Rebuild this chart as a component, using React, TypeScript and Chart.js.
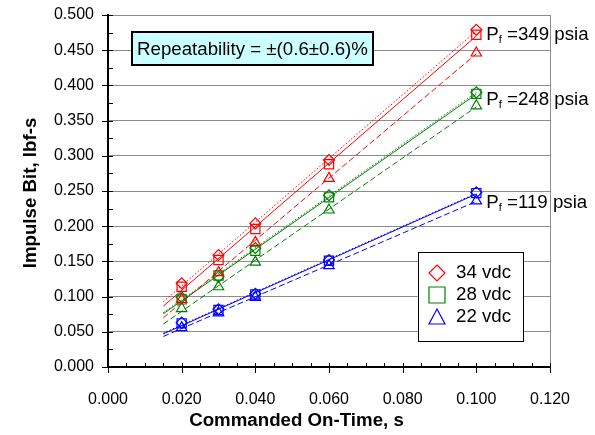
import React, { useEffect, useRef } from 'react';
import { Chart, registerables } from 'chart.js';

Chart.register(...registerables);

// ---- data ----
const onTimes = [0.02, 0.03, 0.04, 0.06, 0.1];

// Pf = 349 psia (red)
const p349v34 = [0.119, 0.159, 0.204, 0.294, 0.479];
const p349v28 = [0.114, 0.152, 0.196, 0.288, 0.472];
const p349v22 = [0.096, 0.134, 0.177, 0.268, 0.446];
// Pf = 248 psia (green)
const p248v34 = [0.099, 0.128, 0.169, 0.244, 0.390];
const p248v28 = [0.096, 0.130, 0.165, 0.241, 0.388];
const p248v22 = [0.083, 0.114, 0.149, 0.223, 0.371];
// Pf = 119 psia (blue)
const p119v34 = [0.063, 0.082, 0.104, 0.152, 0.248];
const p119v28 = [0.062, 0.081, 0.103, 0.151, 0.247];
const p119v22 = [0.056, 0.077, 0.099, 0.144, 0.236];

const pressures = ['349', '248', '119'];
const pressureLabelY = [0.472, 0.3795, 0.2328];
const voltages = ['34 vdc', '28 vdc', '22 vdc'];
const xTickValues = [0, 0.02, 0.04, 0.06, 0.08, 0.1, 0.12];
const yTickValues = [0, 0.05, 0.1, 0.15, 0.2, 0.25, 0.3, 0.35, 0.4, 0.45, 0.5];
const trendRange = [0.015, 0.1];
const repeatabilityText = 'Repeatability = \u00B1(0.6\u00B10.6)%';
const xTitle = 'Commanded On-Time, s';
const yTitle = 'Impulse Bit, lbf-s';

const RED = '#FF0000';
const GREEN = '#008000';
const BLUE = '#0000FF';
const GRID = '#8c8c8c';
const FONT = '"Liberation Sans", Arial, sans-serif';
const BIG = '18.7px ';

const groups = [
  { color: RED, series: [p349v34, p349v28, p349v22] },
  { color: GREEN, series: [p248v34, p248v28, p248v22] },
  { color: BLUE, series: [p119v34, p119v28, p119v22] },
];
const markerStyles = ['rectRot', 'rect', 'triangle'];
const markerRadius = [5.5, 6.5, 6];
const lineDashes = [[1.5, 2], [], [6, 3]];

function fit(xs: number[], ys: number[]) {
  const n = xs.length;
  const mx = xs.reduce((a, b) => a + b, 0) / n;
  const my = ys.reduce((a, b) => a + b, 0) / n;
  let sxx = 0, sxy = 0;
  for (let i = 0; i < n; i++) {
    sxx += (xs[i] - mx) ** 2;
    sxy += (xs[i] - mx) * (ys[i] - my);
  }
  const b = sxy / sxx;
  return (x: number) => my + b * (x - mx);
}

function buildDatasets() {
  const ds: any[] = [];
  groups.forEach((g) => {
    g.series.forEach((vals, k) => {
      const f = fit(onTimes, vals);
      ds.push({
        type: 'line',
        data: trendRange.map((x) => ({ x, y: f(x) })),
        borderColor: g.color,
        borderWidth: 1,
        borderDash: lineDashes[k],
        pointRadius: 0,
        showLine: true,
        fill: false,
        order: 2,
      });
      ds.push({
        type: 'scatter',
        data: onTimes.map((x, i) => ({ x, y: vals[i] })),
        borderColor: g.color,
        backgroundColor: 'rgba(0,0,0,0)',
        borderWidth: 1.2,
        pointStyle: markerStyles[k],
        pointRadius: markerRadius[k],
        showLine: false,
        order: 1,
      });
    });
  });
  return ds;
}

const decor = {
  id: 'decor',
  afterDraw(chart: any) {
    const { ctx, chartArea: ca, scales } = chart;
    const xs = scales.x;
    const ys = scales.y;
    ctx.save();
    // right border
    ctx.strokeStyle = GRID;
    ctx.lineWidth = 1;
    ctx.beginPath();
    const rx = Math.round(ca.right) + 0.5;
    ctx.moveTo(rx, ca.top);
    ctx.lineTo(rx, ca.bottom);
    ctx.stroke();

    // ticks
    ctx.strokeStyle = '#000';
    ctx.lineWidth = 1;
    ctx.beginPath();
    for (let i = 0; i <= 20; i++) {
      const py = Math.round(ys.getPixelForValue(i * 0.025)) + 0.5;
      const major = i % 2 === 0;
      ctx.moveTo(major ? ca.left - 6 : ca.left, py);
      ctx.lineTo(ca.left + 5, py);
    }
    for (let i = 0; i <= 24; i++) {
      const px = Math.round(xs.getPixelForValue(i * 0.005)) + 0.5;
      const major = i % 4 === 0;
      ctx.moveTo(px, ca.bottom - 4);
      ctx.lineTo(px, major ? ca.bottom + 6 : ca.bottom);
    }
    ctx.stroke();

    // axis titles
    ctx.fillStyle = '#000';
    ctx.font = 'bold ' + BIG + FONT;
    ctx.textAlign = 'center';
    ctx.textBaseline = 'middle';
    ctx.fillText(xTitle, chart.width / 2 - 1, 421);
    ctx.save();
    ctx.translate(31, 193);
    ctx.rotate(-Math.PI / 2);
    ctx.fillText(yTitle, 0, 0);
    ctx.restore();

    // repeatability box
    const bx = ca.left + 24;
    const by = ca.top + 17;
    const bw = 241;
    const bh = 33;
    ctx.fillStyle = '#CCFFFF';
    ctx.fillRect(bx, by, bw, bh);
    ctx.strokeStyle = '#000';
    ctx.lineWidth = 2;
    ctx.strokeRect(bx, by, bw, bh);
    ctx.fillStyle = '#000';
    ctx.font = BIG + FONT;
    ctx.textAlign = 'left';
    ctx.fillText(repeatabilityText, bx + 5, by + bh / 2 + 1);

    // pressure labels
    pressures.forEach((p, i) => {
      const lx = xs.getPixelForValue(0.1) + 10;
      const ly = ys.getPixelForValue(pressureLabelY[i]);
      ctx.font = BIG + FONT;
      ctx.textBaseline = 'middle';
      ctx.fillText('P', lx, ly);
      const pw = ctx.measureText('P').width;
      ctx.font = '11px ' + FONT;
      ctx.fillText('f', lx + pw, ly + 5);
      const fw = ctx.measureText('f').width;
      ctx.font = BIG + FONT;
      ctx.fillText(' =' + p + ' psia', lx + pw + fw, ly);
    });

    // legend
    const lw = 105;
    const lh = 89;
    const lx = ca.right - 27 - lw;
    const ly = ca.bottom - 26 - lh;
    ctx.fillStyle = '#fff';
    ctx.fillRect(lx, ly, lw, lh);
    ctx.strokeStyle = '#000';
    ctx.lineWidth = 1;
    ctx.strokeRect(Math.round(lx) + 0.5, Math.round(ly) + 0.5, lw, lh);
    const legendColors = [RED, GREEN, BLUE];
    voltages.forEach((v, i) => {
      const cy = ly + 21 + i * 22;
      const cx = lx + 19;
      ctx.strokeStyle = legendColors[i];
      ctx.lineWidth = 1.2;
      ctx.beginPath();
      if (i === 0) {
        ctx.moveTo(cx, cy - 8);
        ctx.lineTo(cx + 8, cy);
        ctx.lineTo(cx, cy + 8);
        ctx.lineTo(cx - 8, cy);
        ctx.closePath();
      } else if (i === 1) {
        ctx.rect(cx - 8, cy - 8, 16, 16);
      } else {
        ctx.moveTo(cx, cy - 8);
        ctx.lineTo(cx + 8, cy + 7);
        ctx.lineTo(cx - 8, cy + 7);
        ctx.closePath();
      }
      ctx.stroke();
      ctx.fillStyle = '#000';
      ctx.font = BIG + FONT;
      ctx.textAlign = 'left';
      ctx.textBaseline = 'middle';
      ctx.fillText(v, lx + 38, cy);
    });
    ctx.restore();
  },
};

export default function App() {
  const ref = useRef<HTMLCanvasElement | null>(null);
  useEffect(() => {
    if (!ref.current) return;
    const chart = new Chart(ref.current, {
      type: 'scatter',
      data: { datasets: buildDatasets() },
      options: {
        animation: false,
        responsive: false,
        layout: { padding: { top: 15, right: 45, left: 0, bottom: 0 } },
        plugins: { legend: { display: false }, tooltip: { enabled: false } },
        scales: {
          x: {
            type: 'linear',
            min: 0,
            max: 0.12,
            afterFit: (s: any) => {
              s.height = 68;
              s.paddingLeft = 0;
              s.paddingRight = 0;
            },
            afterBuildTicks: (s: any) => {
              s.ticks = xTickValues.map((v) => ({ value: v }));
            },
            ticks: {
              font: { family: FONT, size: 16 },
              color: '#000',
              padding: 23,
              maxRotation: 0,
              callback: (v: any) => Number(v).toFixed(3),
            },
            grid: { display: false, drawTicks: false },
            border: { color: '#000', width: 2 },
          },
          y: {
            type: 'linear',
            min: 0,
            max: 0.5,
            afterFit: (s: any) => {
              s.width = 108;
              s.paddingTop = 0;
              s.paddingBottom = 0;
            },
            afterBuildTicks: (s: any) => {
              s.ticks = yTickValues.map((v) => ({ value: v }));
            },
            ticks: {
              font: { family: FONT, size: 16 },
              color: '#000',
              padding: 14,
              callback: (v: any) => Number(v).toFixed(3),
            },
            grid: { display: true, drawTicks: false, color: GRID, lineWidth: 1 },
            border: { color: '#000', width: 2 },
          },
        },
      },
      plugins: [decor],
    } as any);
    return () => chart.destroy();
  }, []);
  return (
    <div style={{ position: 'fixed', left: 0, top: 0, width: 595, height: 435, background: '#fff' }}>
      <canvas ref={ref} width={595} height={435} />
    </div>
  );
}
